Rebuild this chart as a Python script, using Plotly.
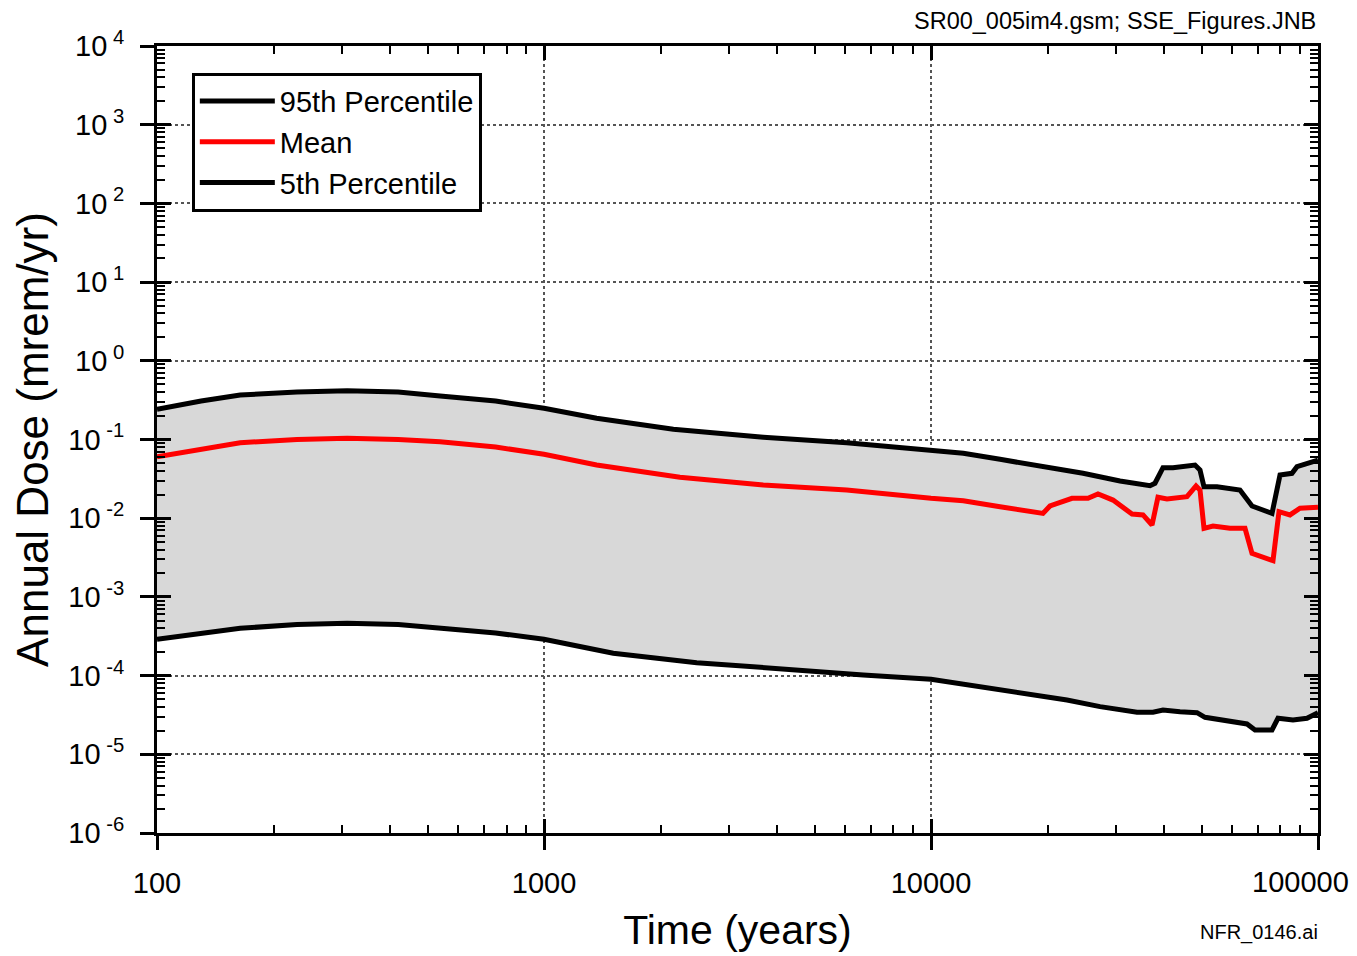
import plotly.graph_objects as go

# ---- data ----
t_p95 = [100, 130, 164, 230, 310, 420, 539, 750, 1000, 1368, 2159, 3687, 6056,
         10000, 12120, 15080, 19470, 24710, 30790, 36810, 37910, 39760, 42200,
         48110, 49560, 50750, 54830, 62860, 67530, 76060, 79770, 85660, 88240,
         100000]
d_p95 = [0.242, 0.308, 0.367, 0.402, 0.417, 0.402, 0.357, 0.308, 0.249, 0.186,
         0.135, 0.107, 0.091, 0.0736, 0.0668, 0.056, 0.0451, 0.0372, 0.0297,
         0.0259, 0.0278, 0.0438, 0.0438, 0.0474, 0.0409, 0.0251, 0.0251, 0.0228,
         0.0143, 0.0115, 0.0354, 0.0372, 0.0451, 0.0548]

t_mean = [100, 130, 164, 230, 310, 420, 539, 750, 1000, 1368, 2245, 3687, 6056,
          10000, 12120, 15080, 19470, 20300, 23140, 25450, 27010, 29530, 33070,
          35300, 37250, 38590, 40720, 45860, 48400, 49560, 50750, 53540, 59230,
          64770, 67530, 76510, 79290, 84640, 89840, 100000]
d_mean = [0.0605, 0.0757, 0.091, 0.100, 0.1035, 0.100, 0.0937, 0.0803, 0.0648,
          0.0474, 0.0331, 0.0264, 0.0228, 0.0179, 0.0167, 0.0140, 0.0115, 0.0143,
          0.0179, 0.0179, 0.0203, 0.0170, 0.0113, 0.0110, 0.0082, 0.0185, 0.0176,
          0.0188, 0.0257, 0.0228, 0.00744, 0.00796, 0.00744, 0.00744, 0.00358,
          0.00289, 0.0121, 0.0110, 0.0134, 0.0138]

t_p05 = [100, 130, 164, 230, 310, 420, 539, 750, 1000, 1510, 2481, 4072, 6683,
         10000, 15080, 18350, 22460, 27340, 34070, 37470, 39760, 44000, 48680,
         51050, 60300, 65540, 68750, 76060, 78810, 86170, 93670, 100000]
d_p05 = [2.89e-4, 3.48e-4, 3.99e-4, 4.46e-4, 4.62e-4, 4.46e-4, 3.99e-4, 3.48e-4,
         2.89e-4, 1.92e-4, 1.46e-4, 1.20e-4, 1.02e-4, 8.98e-5, 6.70e-5, 5.67e-5,
         4.90e-5, 4.03e-5, 3.42e-5, 3.42e-5, 3.65e-5, 3.48e-5, 3.38e-5, 2.95e-5,
         2.60e-5, 2.43e-5, 2.04e-5, 2.04e-5, 2.87e-5, 2.73e-5, 2.87e-5, 3.38e-5]

x_tickvals = [100, 1000, 10000, 100000]
x_ticktext = ["100", "1000", "10000", ""]   # last label drawn as annotation (kept inside page)
x_last_label = "100000"
y_exponents = [-6, -5, -4, -3, -2, -1, 0, 1, 2, 3, 4]
y_tickvals = [10.0 ** e for e in y_exponents]
y_ticktext = ["10<sup> %d</sup>" % e for e in y_exponents]

FONT = "Liberation Sans, Arial, sans-serif"
XR = [1.99999, 5.00001]
YR = [-6.00001, 4.00001]

fig = go.Figure()

# shaded band between 5th and 95th percentile
fig.add_trace(go.Scatter(
    x=t_p95 + t_p05[::-1], y=d_p95 + d_p05[::-1],
    fill="toself", fillcolor="#d8d8d8", line=dict(width=0),
    mode="lines", showlegend=False, hoverinfo="skip"))

fig.add_trace(go.Scatter(x=t_p95, y=d_p95, mode="lines", name="95th Percentile",
                         line=dict(color="black", width=5)))
fig.add_trace(go.Scatter(x=t_mean, y=d_mean, mode="lines", name="Mean",
                         line=dict(color="#ff0000", width=5)))
fig.add_trace(go.Scatter(x=t_p05, y=d_p05, mode="lines", name="5th Percentile",
                         line=dict(color="black", width=5)))

# empty trace to instantiate the overlay (inside-tick) axes
fig.add_trace(go.Scatter(x=[], y=[], xaxis="x2", yaxis="y2", showlegend=False,
                         hoverinfo="skip"))

grid = dict(showgrid=True, gridcolor="#555555", griddash="dot", gridwidth=1.5)

fig.update_layout(
    width=1357, height=956,
    margin=dict(l=149, r=47, t=38, b=131, autoexpand=False),
    paper_bgcolor="white", plot_bgcolor="white",
    font=dict(family=FONT, color="black"),
    showlegend=True,
    legend=dict(x=0.03, y=0.966, xanchor="left", yanchor="top",
                bordercolor="black", borderwidth=3, bgcolor="white",
                font=dict(size=29, family=FONT), itemwidth=75,
                tracegroupgap=0),
    xaxis=dict(type="log", range=XR, tickmode="array",
               tickvals=x_tickvals, ticktext=x_ticktext,
               ticks="outside", ticklen=14, tickwidth=2.5, tickcolor="black",
               showline=True, linewidth=3, linecolor="black", mirror=True,
               tickfont=dict(size=29), ticklabelstandoff=8, automargin=False,
               title=dict(text="Time (years)", font=dict(size=41), standoff=18),
               zeroline=False, **grid),
    yaxis=dict(type="log", range=YR, tickmode="array",
               tickvals=y_tickvals, ticktext=y_ticktext,
               ticks="outside", ticklen=14, tickwidth=2.5, tickcolor="black",
               showline=True, linewidth=3, linecolor="black", mirror=True,
               tickfont=dict(size=29), ticklabelstandoff=10, automargin=False,
               ticklabeloverflow="allow",
               title=dict(text="Annual Dose (mrem/yr)", font=dict(size=44), standoff=10),
               zeroline=False, **grid),
    xaxis2=dict(type="log", range=XR, overlaying="x", anchor="y2",
                tickmode="array", tickvals=x_tickvals,
                ticks="inside", ticklen=14, tickwidth=2.5, tickcolor="black",
                mirror="allticks", showline=False, showgrid=False,
                showticklabels=False, zeroline=False,
                minor=dict(ticks="inside", ticklen=8, tickwidth=1.5,
                           tickcolor="black", dtick="D1", showgrid=False)),
    yaxis2=dict(type="log", range=YR, overlaying="y", anchor="x2", side="left",
                tickmode="array", tickvals=y_tickvals,
                ticks="inside", ticklen=14, tickwidth=2.5, tickcolor="black",
                mirror="allticks", showline=False, showgrid=False,
                showticklabels=False, zeroline=False,
                minor=dict(ticks="inside", ticklen=8, tickwidth=1.5,
                           tickcolor="black", dtick="D1", showgrid=False)),
    annotations=[
        dict(text=x_last_label, xref="x", yref="paper",
             x=5, y=0, xanchor="right", yanchor="top", xshift=33, yshift=-31,
             showarrow=False, font=dict(size=29, family=FONT)),
        dict(text="SR00_005im4.gsm; SSE_Figures.JNB", xref="paper", yref="paper",
             x=1.0, y=1.0, xanchor="right", yanchor="bottom", yshift=10,
             showarrow=False, font=dict(size=23.5, family=FONT)),
        dict(text="NFR_0146.ai", xref="paper", yref="paper",
             x=1.0, y=0, xanchor="right", yanchor="top", yshift=-86, xshift=2,
             showarrow=False, font=dict(size=20, family=FONT)),
    ],
)

fig.write_html("out.html")
